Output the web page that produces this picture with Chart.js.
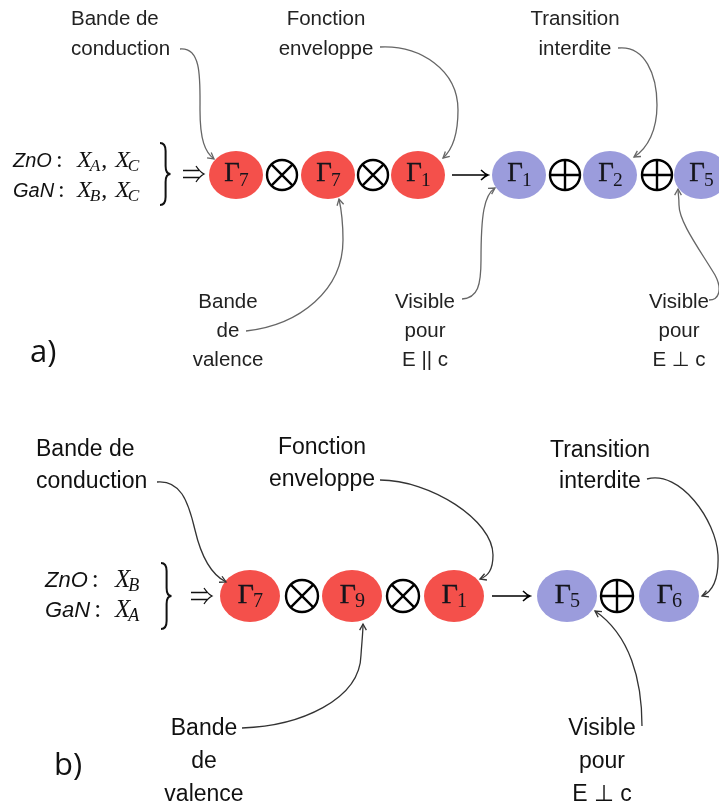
<!DOCTYPE html>
<html>
<head>
<meta charset="utf-8">
<script src="https://cdn.jsdelivr.net/npm/chart.js@4.4.0/dist/chart.umd.min.js"></script>
<style>
  html, body { margin: 0; padding: 0; background: #fff; }
  #wrap { width: 719px; height: 805px; }
</style>
</head>
<body>
<div id="wrap"><canvas id="chart" width="719" height="805"></canvas></div>
<script>
// panel a) : Gamma_7 x Gamma_7 x Gamma_1 -> Gamma_1 + Gamma_2 + Gamma_5
const nodesA = ['7', '7', '1', '1', '2', '5'];
const nodesAX = [236, 328, 418, 519, 610, 701];
const nodesAKind = ['r', 'r', 'r', 'b', 'b', 'b'];
const opsA = ['otimes', 'otimes', 'to', 'oplus', 'oplus'];
const opsAX = [282, 373, 470, 565, 657];

// panel b) : Gamma_7 x Gamma_9 x Gamma_1 -> Gamma_5 + Gamma_6
const nodesB = ['7', '9', '1', '5', '6'];
const nodesBX = [250, 352, 454, 567, 669];
const nodesBKind = ['r', 'r', 'r', 'b', 'b'];
const opsB = ['otimes', 'otimes', 'to', 'oplus'];
const opsBX = [302, 403, 511, 617];

const rowY = { a: 175, b: 596 };

const RED = '#f4504b';
const BLUE = '#9b9cdc';
const SANS = '"Liberation Sans", "DejaVu Sans", Arial, sans-serif';
const SERIF = '"Liberation Serif", "DejaVu Serif", "Times New Roman", serif';

// callout labels and their connector curves (polybezier, data units)
const calloutsA = [
  { lines: ['Bande de', 'conduction'], x: 71, y: 25, gap: 30, align: 'left',
    path: [[180, 49], [202, 47], [200, 80], [200, 110], [200, 140], [205, 152], [214, 159]] },
  { lines: ['Fonction', 'enveloppe'], x: 326, y: 25, gap: 30, align: 'center',
    path: [[380, 47], [420, 45], [458, 70], [458, 110], [458, 135], [452, 150], [443, 158]] },
  { lines: ['Transition', 'interdite'], x: 575, y: 25, gap: 30, align: 'center',
    path: [[618, 48], [645, 45], [657, 75], [657, 105], [657, 130], [648, 148], [634, 157]] },
  { lines: ['Bande', 'de', 'valence'], x: 228, y: 308, gap: 29, align: 'center',
    path: [[246, 331], [300, 325], [343, 290], [343, 240], [343, 220], [341, 208], [339, 199]] },
  { lines: ['Visible', 'pour', 'E || c'], x: 425, y: 308, gap: 29, align: 'center',
    path: [[462, 299], [478, 298], [481, 285], [481, 260], [481, 215], [484, 195], [495, 188]] },
  { lines: ['Visible', 'pour', 'E \u22A5 c'], x: 679, y: 308, gap: 29, align: 'center',
    path: [[709, 300], [720, 300], [722, 288], [715, 275], [700, 250], [679, 222], [679, 205],
           [679, 197], [678, 193], [678, 189]] }
];
const calloutsB = [
  { lines: ['Bande de', 'conduction'], x: 36, y: 456, gap: 32, align: 'left',
    path: [[157, 482], [180, 480], [188, 500], [195, 530], [202, 560], [212, 575], [226, 582]] },
  { lines: ['Fonction', 'enveloppe'], x: 322, y: 454, gap: 32, align: 'center',
    path: [[380, 480], [430, 480], [493, 520], [493, 555], [493, 570], [488, 576], [480, 579]] },
  { lines: ['Transition', 'interdite'], x: 600, y: 457, gap: 31, align: 'center',
    path: [[647, 479], [680, 470], [716, 520], [718, 555], [719, 580], [712, 592], [702, 596]] },
  { lines: ['Bande', 'de', 'valence'], x: 204, y: 735, gap: 33, align: 'center',
    path: [[242, 728], [300, 726], [360, 700], [361, 655], [362, 640], [363, 632], [363, 624]] },
  { lines: ['Visible', 'pour', 'E \u22A5 c'], x: 602, y: 735, gap: 33, align: 'center',
    path: [[642, 726], [642, 680], [630, 635], [595, 611]] }
];

const panels = {
  a: { rx: 27, ry: 24, gamma: 27, opR: 15, text: 20.5, color: '#222', line: '#666',
       callouts: calloutsA, tag: 'a)', tagX: 30, tagY: 362,
       braceX: 160, braceTop: 143, braceBot: 205, implX: 193,
       left: [
         { name: 'ZnO', y: 167, xs: [['X', 'A'], ['X', 'C']] },
         { name: 'GaN', y: 197, xs: [['X', 'B'], ['X', 'C']] }
       ], nameX: 13, colX: 77, nameSize: 20, mathSize: 24 },
  b: { rx: 30, ry: 26, gamma: 28, opR: 16, text: 23, color: '#111', line: '#333',
       callouts: calloutsB, tag: 'b)', tagX: 54, tagY: 775,
       braceX: 161, braceTop: 563, braceBot: 629, implX: 201,
       left: [
         { name: 'ZnO', y: 587, xs: [['X', 'B']] },
         { name: 'GaN', y: 617, xs: [['X', 'A']] }
       ], nameX: 45, colX: 115, nameSize: 22, mathSize: 25 }
};

function pts(xs, y) { return xs.map(x => ({ x: x, y: y })); }

function drawNode(ctx, x, y, p, kind, sub) {
  ctx.save();
  ctx.beginPath();
  ctx.ellipse(x, y, p.rx, p.ry, 0, 0, Math.PI * 2);
  ctx.fillStyle = kind === 'r' ? RED : BLUE;
  ctx.fill();
  const g = p.gamma, s = g * 0.72;
  ctx.font = g + 'px ' + SERIF;
  const gw = ctx.measureText('\u0393').width;
  ctx.font = s + 'px ' + SERIF;
  const sw = ctx.measureText(sub).width;
  const x0 = x - (gw + sw) / 2 + 1;
  ctx.fillStyle = '#15151c';
  ctx.strokeStyle = '#15151c';
  ctx.lineWidth = 0.4;
  ctx.textAlign = 'left';
  ctx.textBaseline = 'alphabetic';
  ctx.font = g + 'px ' + SERIF;
  ctx.fillText('\u0393', x0, y + g * 0.24);
  ctx.strokeText('\u0393', x0, y + g * 0.24);
  ctx.font = s + 'px ' + SERIF;
  ctx.fillText(sub, x0 + gw - 1, y + g * 0.24 + g * 0.16);
  ctx.restore();
}

function drawOp(ctx, x, y, p, op) {
  ctx.save();
  ctx.strokeStyle = '#000';
  ctx.lineWidth = 2.4;
  const r = p.opR;
  if (op === 'to') {
    const half = r + 3;
    ctx.lineWidth = 1.5;
    ctx.beginPath();
    ctx.moveTo(x - half, y);
    ctx.lineTo(x + half, y);
    ctx.moveTo(x + half - 7, y - 5);
    ctx.quadraticCurveTo(x + half - 3, y - 1, x + half, y);
    ctx.quadraticCurveTo(x + half - 3, y + 1, x + half - 7, y + 5);
    ctx.stroke();
  } else {
    ctx.beginPath();
    ctx.arc(x, y, r, 0, Math.PI * 2);
    ctx.stroke();
    ctx.beginPath();
    if (op === 'otimes') {
      const d = r * Math.SQRT1_2;
      ctx.moveTo(x - d, y - d); ctx.lineTo(x + d, y + d);
      ctx.moveTo(x + d, y - d); ctx.lineTo(x - d, y + d);
    } else {
      ctx.moveTo(x - r, y); ctx.lineTo(x + r, y);
      ctx.moveTo(x, y - r); ctx.lineTo(x, y + r);
    }
    ctx.stroke();
  }
  ctx.restore();
}

function drawCallout(ctx, c, p, X, Y) {
  ctx.save();
  ctx.fillStyle = p.color;
  ctx.font = p.text + 'px ' + SANS;
  ctx.textAlign = c.align;
  ctx.textBaseline = 'alphabetic';
  c.lines.forEach((t, i) => ctx.fillText(t, X(c.x), Y(c.y + i * c.gap)));
  const q = c.path;
  ctx.strokeStyle = p.line;
  ctx.lineWidth = 1.3;
  ctx.beginPath();
  ctx.moveTo(X(q[0][0]), Y(q[0][1]));
  for (let i = 1; i + 2 < q.length; i += 3) {
    ctx.bezierCurveTo(X(q[i][0]), Y(q[i][1]), X(q[i + 1][0]), Y(q[i + 1][1]), X(q[i + 2][0]), Y(q[i + 2][1]));
  }
  ctx.stroke();
  // arrow tip
  const e = q[q.length - 1], b = q[q.length - 2];
  const ex = X(e[0]), ey = Y(e[1]);
  const a = Math.atan2(ey - Y(b[1]), ex - X(b[0]));
  ctx.beginPath();
  ctx.moveTo(ex - 7 * Math.cos(a - 0.5), ey - 7 * Math.sin(a - 0.5));
  ctx.lineTo(ex, ey);
  ctx.lineTo(ex - 7 * Math.cos(a + 0.5), ey - 7 * Math.sin(a + 0.5));
  ctx.stroke();
  ctx.restore();
}

function drawLeft(ctx, p, X, Y) {
  ctx.save();
  ctx.fillStyle = '#111';
  ctx.textAlign = 'left';
  ctx.textBaseline = 'alphabetic';
  p.left.forEach(row => {
    let x = X(p.nameX);
    const y = Y(row.y);
    ctx.font = 'italic ' + p.nameSize + 'px ' + SANS;
    ctx.fillText(row.name, x, y);
    x += ctx.measureText(row.name).width + 4;
    ctx.font = p.mathSize + 'px ' + SERIF;
    ctx.fillText(':', x, y);
    x = X(p.colX);
    row.xs.forEach((v, i) => {
      if (i > 0) {
        ctx.font = p.mathSize + 'px ' + SERIF;
        ctx.fillText(',', x, y);
        x += ctx.measureText(', ').width + 2;
      }
      ctx.font = 'italic ' + p.mathSize + 'px ' + SERIF;
      ctx.fillText(v[0], x, y);
      x += ctx.measureText(v[0]).width - 2;
      ctx.font = 'italic ' + (p.mathSize * 0.72) + 'px ' + SERIF;
      ctx.fillText(v[1], x, y + 4);
      x += ctx.measureText(v[1]).width + 1;
    });
  });
  // right brace
  const bx = X(p.braceX), t = Y(p.braceTop), bt = Y(p.braceBot), m = (t + bt) / 2, w = 7;
  ctx.strokeStyle = '#111';
  ctx.lineWidth = 2;
  ctx.beginPath();
  ctx.moveTo(bx, t);
  ctx.quadraticCurveTo(bx + w * 0.8, t, bx + w * 0.8, t + 8);
  ctx.lineTo(bx + w * 0.8, m - 8);
  ctx.quadraticCurveTo(bx + w * 0.8, m, bx + w * 1.5, m);
  ctx.quadraticCurveTo(bx + w * 0.8, m, bx + w * 0.8, m + 8);
  ctx.lineTo(bx + w * 0.8, bt - 8);
  ctx.quadraticCurveTo(bx + w * 0.8, bt, bx, bt);
  ctx.stroke();
  // implies arrow
  const ix = X(p.implX), iy = m;
  ctx.lineWidth = 1.3;
  ctx.beginPath();
  ctx.moveTo(ix - 10, iy - 3.5); ctx.lineTo(ix + 6, iy - 3.5);
  ctx.moveTo(ix - 10, iy + 3.5); ctx.lineTo(ix + 6, iy + 3.5);
  ctx.moveTo(ix + 3, iy - 8);
  ctx.quadraticCurveTo(ix + 7, iy - 2, ix + 11, iy);
  ctx.quadraticCurveTo(ix + 7, iy + 2, ix + 3, iy + 8);
  ctx.stroke();
  // panel tag
  ctx.fillStyle = '#111';
  ctx.font = '31px "Open Sans", Lato, ' + SANS;
  ctx.fillText(p.tag, X(p.tagX), Y(p.tagY));
  ctx.restore();
}

const diagram = {
  id: 'diagram',
  afterDatasetsDraw(chart) {
    const ctx = chart.ctx;
    const X = v => chart.scales.x.getPixelForValue(v);
    const Y = v => chart.scales.y.getPixelForValue(v);
    chart.data.datasets.forEach((ds, i) => {
      const p = panels[ds.panel];
      chart.getDatasetMeta(i).data.forEach((el, j) => {
        if (ds.role === 'node') drawNode(ctx, el.x, el.y, p, ds.kinds[j], ds.subs[j]);
        else drawOp(ctx, el.x, el.y, p, ds.ops[j]);
      });
    });
    ['a', 'b'].forEach(k => {
      const p = panels[k];
      drawLeft(ctx, p, X, Y);
      p.callouts.forEach(c => drawCallout(ctx, c, p, X, Y));
    });
  }
};

new Chart(document.getElementById('chart'), {
  type: 'scatter',
  data: {
    datasets: [
      { label: 'a nodes', panel: 'a', role: 'node', subs: nodesA, kinds: nodesAKind, data: pts(nodesAX, rowY.a) },
      { label: 'a ops', panel: 'a', role: 'op', ops: opsA, data: pts(opsAX, rowY.a) },
      { label: 'b nodes', panel: 'b', role: 'node', subs: nodesB, kinds: nodesBKind, data: pts(nodesBX, rowY.b) },
      { label: 'b ops', panel: 'b', role: 'op', ops: opsB, data: pts(opsBX, rowY.b) }
    ]
  },
  options: {
    responsive: false,
    animation: false,
    devicePixelRatio: 1,
    events: [],
    layout: { padding: 0 },
    elements: { point: { radius: 0, hoverRadius: 0 } },
    plugins: { legend: { display: false }, tooltip: { enabled: false } },
    scales: {
      x: { type: 'linear', min: 0, max: 719, display: false },
      y: { type: 'linear', min: 0, max: 805, reverse: true, display: false }
    }
  },
  plugins: [diagram]
});
</script>
</body>
</html>
